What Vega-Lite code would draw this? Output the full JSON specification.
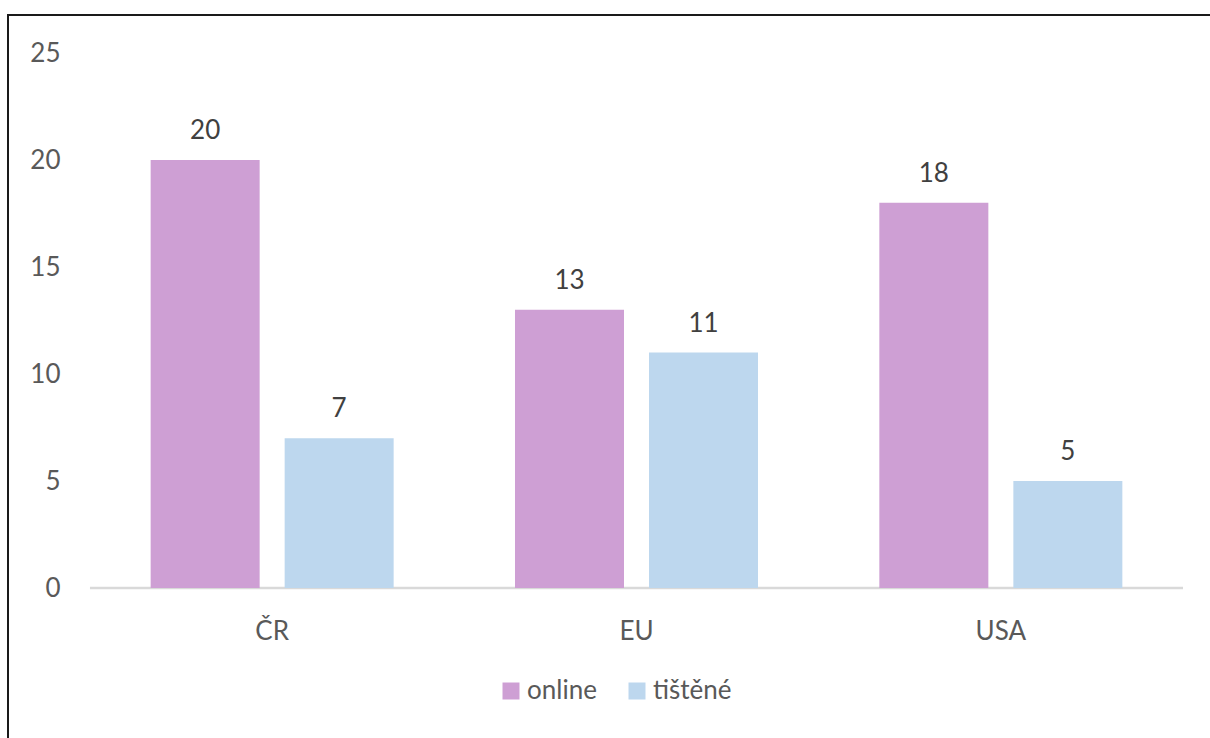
{
  "$schema": "https://vega.github.io/schema/vega-lite/v6.json",
  "autosize": {"type": "none"},
  "padding": {"left": 8, "top": 15, "right": 0, "bottom": 0},
  "width": 1257,
  "height": 760,
  "background": "white",
  "config": {
    "font": "Lato",
    "view": {"stroke": "#1a1a1a", "strokeWidth": 2},
    "axisX": {"domain": false, "ticks": false, "grid": false, "labelFontSize": 26, "labelColor": "#595959", "labelPadding": 30, "offset": -187, "labelAngle": 0, "labelFont": "Lato"},
    "axisY": {"domain": false, "ticks": false, "grid": false, "labelFontSize": 26, "labelColor": "#595959", "labelPadding": 0, "offset": -52, "labelFont": "Lato"}
  },
  "datasets": {
    "bars": [
      {"country": "ČR", "type": "online", "value": 20},
      {"country": "ČR", "type": "tištěné", "value": 7},
      {"country": "EU", "type": "online", "value": 13},
      {"country": "EU", "type": "tištěné", "value": 11},
      {"country": "USA", "type": "online", "value": 18},
      {"country": "USA", "type": "tištěné", "value": 5}
    ],
    "base": [{"start": "ČR", "end": "USA", "zero": 0}]
  },
  "layer": [
    {
      "data": {"name": "base"},
      "mark": {"type": "rule", "color": "#D9D9D9", "strokeWidth": 2.5},
      "encoding": {
        "x": {"field": "start", "type": "nominal", "bandPosition": 0, "title": null, "scale": {"domain": ["ČR", "EU", "USA"], "paddingInner": 0, "paddingOuter": 0.225}},
        "x2": {"field": "end", "bandPosition": 1},
        "y": {"field": "zero", "type": "quantitative", "title": null, "scale": {"domain": [-8.738, 26.776], "nice": false, "zero": false}, "axis": {"values": [0, 5, 10, 15, 20, 25]}}
      }
    },
    {
      "data": {"name": "bars"},
      "mark": {"type": "bar"},
      "encoding": {
        "x": {"field": "country", "type": "nominal", "title": null, "sort": ["ČR", "EU", "USA"]},
        "xOffset": {"field": "type", "type": "nominal", "scale": {"domain": ["online", "tištěné"], "paddingInner": 0.1866, "paddingOuter": 0.4527}},
        "y": {"field": "value", "type": "quantitative", "title": null, "axis": {"values": [0, 5, 10, 15, 20, 25]}},
        "y2": {"datum": 0},
        "color": {
          "field": "type", "type": "nominal",
          "scale": {"domain": ["online", "tištěné"], "range": ["#CE9FD4", "#BDD7EE"]},
          "legend": {"orient": "none", "legendX": 490, "legendY": 663, "direction": "horizontal", "title": null, "symbolType": "square", "symbolSize": 289, "symbolStrokeWidth": 0, "labelFontSize": 26, "labelColor": "#595959", "labelFont": "Lato", "columnPadding": 27, "labelOffset": 3, "padding": 0}
        }
      }
    },
    {
      "data": {"name": "bars"},
      "mark": {"type": "text", "dy": -21, "baseline": "alphabetic", "fontSize": 26, "color": "#404040", "font": "Lato"},
      "encoding": {
        "x": {"field": "country", "type": "nominal", "title": null, "sort": ["ČR", "EU", "USA"]},
        "xOffset": {"field": "type", "type": "nominal"},
        "y": {"field": "value", "type": "quantitative", "title": null, "axis": {"values": [0, 5, 10, 15, 20, 25]}},
        "text": {"field": "value", "type": "quantitative"}
      }
    }
  ]
}
